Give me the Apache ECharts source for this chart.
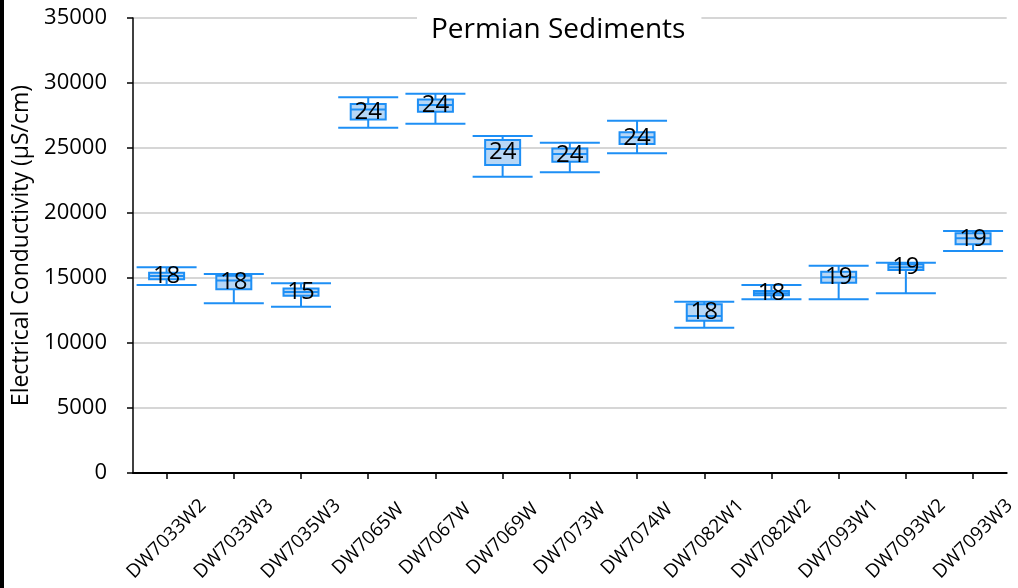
<!DOCTYPE html>
<html>
<head>
<meta charset="utf-8">
<script src="https://cdn.jsdelivr.net/npm/echarts@6/dist/echarts.min.js"></script>
<style>
	html, body { margin: 0; padding: 0; background: #fff; }
	#chart { width: 1018px; height: 588px; }
</style>
</head>
<body>
<div id="chart"></div>
<script>
	// sites
	let categories = ['DW7033W2', 'DW7033W3', 'DW7035W3', 'DW7065W', 'DW7067W', 'DW7069W', 'DW7073W',
		'DW7074W', 'DW7082W1', 'DW7082W2', 'DW7093W1', 'DW7093W2', 'DW7093W3']
	// box statistics, uS/cm
	let minVals = [14460, 13050, 12790, 26560, 26870, 22790, 23130, 24590, 11180, 13360, 13360, 13820, 17080]
	let q1Vals = [14900, 14130, 13640, 27200, 27790, 23690, 23950, 25310, 11720, 13670, 14640, 15620, 17590]
	let medVals = [15150, 14800, 13920, 27970, 28310, 24920, 24540, 25820, 12080, 13820, 15050, 15820, 18050]
	let q3Vals = [15410, 15180, 14200, 28380, 28740, 25620, 24970, 26210, 12980, 14000, 15490, 16050, 18440]
	let maxVals = [15820, 15310, 14590, 28900, 29180, 25920, 25410, 27100, 13180, 14460, 15950, 16180, 18620]
	// number of samples
	let counts = [18, 18, 15, 24, 24, 24, 24, 24, 18, 18, 19, 19, 19]
	let yTicks = [0, 5000, 10000, 15000, 20000, 25000, 30000, 35000]

	let blue = '#1E8FF5'
	let fill = '#B7D7F6'
	let font = '"Open Sans", "Liberation Sans", sans-serif'

	let boxData = categories.map((c, i) => [i, minVals[i], q1Vals[i], medVals[i], q3Vals[i], maxVals[i], counts[i]])

	function renderBox(params, api) {
		let idx = api.value(0)
		let pMin = api.coord([idx, api.value(1)])
		let pQ1 = api.coord([idx, api.value(2)])
		let pMed = api.coord([idx, api.value(3)])
		let pQ3 = api.coord([idx, api.value(4)])
		let pMax = api.coord([idx, api.value(5)])
		let x = pMed[0]
		let bw = 17.5
		let cw = 30
		let ls = { stroke: blue, lineWidth: 2 }
		return {
			type: 'group',
			children: [
				{ type: 'line', shape: { x1: x, y1: pMax[1], x2: x, y2: pMin[1] }, style: ls },
				{ type: 'line', shape: { x1: x - cw, y1: pMax[1], x2: x + cw, y2: pMax[1] }, style: ls },
				{ type: 'line', shape: { x1: x - cw, y1: pMin[1], x2: x + cw, y2: pMin[1] }, style: ls },
				{ type: 'rect', shape: { x: x - bw, y: pQ3[1], width: bw * 2, height: pQ1[1] - pQ3[1] },
					style: { fill: fill, stroke: blue, lineWidth: 2 } },
				{ type: 'line', shape: { x1: x - bw, y1: pMed[1], x2: x + bw, y2: pMed[1] }, style: ls },
				{ type: 'text', style: { text: String(api.value(6)), x: x, y: (pQ1[1] + pQ3[1]) / 2,
					align: 'center', verticalAlign: 'middle', fill: '#000', font: '24px ' + font } }
			]
		}
	}

	let chart = echarts.init(document.getElementById('chart'))
	let option = {
		animation: false,
		textStyle: { fontFamily: font },
		title: {
			text: 'Permian Sediments',
			left: 417,
			top: 10,
			padding: [6, 16, 6, 14],
			backgroundColor: '#fff',
			textStyle: { color: '#000', fontSize: 28, fontWeight: 'normal', fontFamily: font }
		},
		grid: { left: 133, right: 1, top: 18, bottom: 115, containLabel: false },
		xAxis: {
			type: 'category',
			data: categories,
			axisLine: { show: true, lineStyle: { color: '#000', width: 2 } },
			axisTick: { show: true, alignWithLabel: true, length: 6, lineStyle: { color: '#000', width: 1.5 } },
			axisLabel: {
				interval: 0, rotate: 45, align: 'center', verticalAlign: 'middle', margin: 66,
				color: '#000', fontSize: 19, fontFamily: font
			},
			splitLine: { show: false }
		},
		yAxis: {
			type: 'value',
			min: yTicks[0],
			max: yTicks[yTicks.length - 1],
			interval: 5000,
			name: 'Electrical Conductivity (µS/cm)',
			nameLocation: 'middle',
			nameGap: 98,
			nameTextStyle: { color: '#000', fontSize: 23, fontFamily: font },
			axisLine: { show: true, lineStyle: { color: '#000', width: 1.5 } },
			axisTick: { show: true, inside: false, length: 6, lineStyle: { color: '#000', width: 1.5 } },
			axisLabel: { color: '#000', fontSize: 22, margin: 26, fontFamily: font, formatter: (v) => String(v) },
			splitLine: { show: true, lineStyle: { color: '#C8C8C8', width: 1.5 } }
		},
		graphic: [
			{ type: 'rect', left: 0, top: 0, shape: { width: 4, height: 588 }, style: { fill: '#000' } }
		],
		series: [{
			type: 'custom',
			renderItem: renderBox,
			encode: { x: 0, y: [1, 2, 3, 4, 5] },
			data: boxData,
			z: 10
		}]
	}
	chart.setOption(option)
</script>
</body>
</html>
